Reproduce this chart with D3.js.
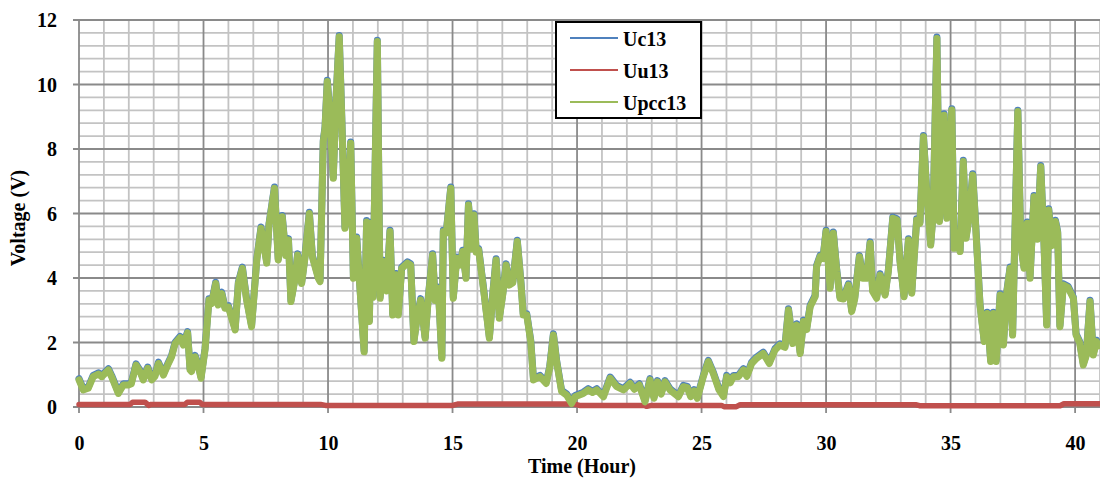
<!DOCTYPE html>
<html>
<head>
<meta charset="utf-8">
<script src="https://cdn.jsdelivr.net/npm/d3@7/dist/d3.min.js"></script>
<style>
  html, body { margin: 0; padding: 0; background: #ffffff; }
  svg { display: block; }
  text { font-family: "Liberation Serif", "Times New Roman", serif; font-weight: bold; fill: #000; }
</style>
</head>
<body>
<svg id="chart" width="1100" height="481"></svg>
<script>
// Measurement times (hours) shared by the Uc13 and Upcc13 traces
const hours = [
  0.00,0.17,0.37,0.57,0.78,0.91,1.18,1.31,1.58,1.78,
  1.98,2.10,2.29,2.45,2.58,2.76,2.92,3.05,3.19,3.39,
  3.59,3.72,3.86,4.06,4.19,4.36,4.46,4.52,4.66,4.78,
  4.90,5.06,5.22,5.33,5.49,5.59,5.73,5.86,6.00,6.27,
  6.40,6.56,6.73,6.93,7.14,7.31,7.54,7.63,7.85,8.00,
  8.16,8.30,8.41,8.51,8.67,8.78,8.94,9.07,9.25,9.37,
  9.61,9.68,9.81,9.88,9.97,10.05,10.21,10.32,10.45,10.55,
  10.68,10.80,10.91,11.02,11.15,11.45,11.55,11.66,11.73,11.80,
  11.98,12.09,12.22,12.35,12.49,12.60,12.73,12.82,12.96,13.19,
  13.32,13.45,13.55,13.72,13.90,14.03,14.20,14.30,14.43,14.57,
  14.63,14.75,14.93,15.03,15.17,15.30,15.41,15.54,15.64,15.77,
  15.86,15.95,16.05,16.24,16.48,16.63,16.75,16.88,17.02,17.15,
  17.28,17.42,17.60,17.75,17.84,17.98,18.14,18.25,18.51,18.76,
  18.90,19.05,19.18,19.38,19.58,19.78,19.92,20.25,20.45,20.62,
  20.79,21.06,21.33,21.59,21.86,22.13,22.30,22.50,22.73,22.93,
  23.09,23.23,23.38,23.53,23.73,24.07,24.27,24.43,24.56,24.70,
  24.83,25.07,25.27,25.47,25.70,25.88,26.01,26.15,26.28,26.48,
  26.68,26.82,27.01,27.21,27.48,27.72,27.95,28.15,28.35,28.49,
  28.66,28.82,28.96,29.09,29.22,29.36,29.56,29.62,29.76,29.88,
  30.00,30.16,30.29,30.43,30.56,30.70,30.90,31.03,31.15,31.34,
  31.47,31.62,31.77,31.87,32.03,32.17,32.37,32.50,32.68,32.85,
  32.97,33.13,33.31,33.44,33.64,33.77,33.91,34.04,34.20,34.30,
  34.45,34.55,34.74,34.85,35.05,35.14,35.25,35.38,35.51,35.62,
  35.75,35.89,36.02,36.18,36.35,36.47,36.61,36.72,36.83,36.99,
  37.12,37.25,37.39,37.49,37.70,37.82,37.95,38.08,38.19,38.35,
  38.48,38.62,38.75,38.86,38.94,39.07,39.21,39.30,39.39,39.53,
  39.72,39.93,40.04,40.18,40.33,40.45,40.60,40.73,40.86,40.95
];

// Uc13 voltage (V)
const uc13 = [
  0.88,0.57,0.62,0.98,1.06,0.98,1.19,0.98,0.46,0.72,
  0.72,0.76,1.34,1.14,0.88,1.24,0.88,0.99,1.39,1.03,
  1.39,1.60,2.01,2.19,1.96,2.34,1.19,1.14,1.60,1.34,
  0.93,1.81,3.36,3.25,3.87,3.20,3.56,3.10,3.14,2.43,
  3.87,4.34,3.36,2.53,4.60,5.58,4.50,5.68,6.82,4.60,
  5.94,4.74,5.22,3.31,3.98,4.75,3.87,4.64,6.04,4.70,
  4.03,3.93,8.27,8.68,10.13,9.34,7.13,9.54,11.52,9.04,
  5.58,6.24,8.22,4.03,5.27,1.75,5.78,2.69,5.74,3.44,
  11.37,3.41,4.55,3.64,5.48,2.89,4.14,2.89,4.34,4.50,
  4.44,2.07,2.64,3.36,2.17,3.44,4.75,3.34,3.72,1.55,
  5.48,5.44,6.82,3.41,4.65,4.44,4.86,4.03,6.30,4.94,
  5.99,4.84,4.91,3.72,2.17,3.64,4.60,2.79,3.54,4.44,
  3.82,3.89,5.17,3.84,2.89,2.89,2.07,0.88,0.98,0.77,
  1.24,2.27,1.44,0.52,0.41,0.15,0.36,0.46,0.57,0.49,
  0.57,0.36,0.93,0.67,0.57,0.77,0.59,0.72,0.20,0.88,
  0.31,0.82,0.44,0.82,0.57,0.36,0.67,0.64,0.36,0.54,
  0.31,0.98,1.45,1.08,0.57,0.36,0.98,0.79,0.98,0.98,
  1.19,0.99,1.39,1.55,1.70,1.39,1.81,1.96,1.89,3.05,
  2.01,2.58,1.70,2.69,2.44,3.15,3.46,4.39,4.70,4.64,
  5.48,3.72,5.43,4.24,3.41,3.39,3.82,3.00,3.39,4.70,
  4.03,4.03,5.12,3.62,3.41,4.13,3.51,4.24,5.89,5.84,
  4.55,3.46,5.22,3.57,5.84,5.74,8.42,6.72,5.06,6.04,
  11.47,5.79,9.09,5.89,9.25,4.96,5.44,4.86,7.65,5.27,
  5.94,7.23,5.48,3.20,2.07,2.94,1.45,2.94,1.45,3.51,
  1.96,3.54,4.34,2.27,9.20,5.06,4.34,5.74,4.03,6.56,
  5.24,7.49,5.14,2.58,6.15,5.04,5.79,5.44,2.53,3.82,
  3.74,3.41,2.27,2.04,1.34,1.64,3.31,1.65,2.07,1.94
];

// Upcc13 voltage (V)
const upcc13 = [
  0.84,0.53,0.58,0.94,1.02,0.94,1.15,0.94,0.42,0.68,
  0.68,0.72,1.30,1.10,0.84,1.20,0.84,0.95,1.35,0.99,
  1.35,1.56,1.97,2.15,1.92,2.30,1.15,1.10,1.56,1.30,
  0.89,1.77,3.32,3.21,3.83,3.16,3.52,3.06,3.10,2.39,
  3.83,4.30,3.32,2.49,4.56,5.54,4.46,5.64,6.78,4.56,
  5.90,4.70,5.18,3.27,3.94,4.71,3.83,4.60,6.00,4.66,
  3.99,3.89,8.23,8.64,10.09,9.30,7.09,9.50,11.48,9.00,
  5.54,6.20,8.18,3.99,5.23,1.71,5.74,2.65,5.70,3.40,
  11.33,3.37,4.51,3.60,5.44,2.85,4.10,2.85,4.30,4.46,
  4.40,2.03,2.60,3.32,2.13,3.40,4.71,3.30,3.68,1.51,
  5.44,5.40,6.78,3.37,4.61,4.40,4.82,3.99,6.26,4.90,
  5.95,4.80,4.87,3.68,2.13,3.60,4.56,2.75,3.50,4.40,
  3.78,3.85,5.13,3.80,2.85,2.85,2.03,0.84,0.94,0.73,
  1.20,2.23,1.40,0.48,0.37,0.11,0.32,0.42,0.53,0.45,
  0.53,0.32,0.89,0.63,0.53,0.73,0.55,0.68,0.16,0.84,
  0.27,0.78,0.40,0.78,0.53,0.32,0.63,0.60,0.32,0.50,
  0.27,0.94,1.41,1.04,0.53,0.32,0.94,0.75,0.94,0.94,
  1.15,0.95,1.35,1.51,1.66,1.35,1.77,1.92,1.85,3.01,
  1.97,2.54,1.66,2.65,2.40,3.11,3.42,4.35,4.66,4.60,
  5.44,3.68,5.39,4.20,3.37,3.35,3.78,2.96,3.35,4.66,
  3.99,3.99,5.08,3.58,3.37,4.09,3.47,4.20,5.85,5.80,
  4.51,3.42,5.18,3.53,5.80,5.70,8.38,6.68,5.02,6.00,
  11.43,5.75,9.05,5.85,9.21,4.92,5.40,4.82,7.61,5.23,
  5.90,7.19,5.44,3.16,2.03,2.90,1.41,2.90,1.41,3.47,
  1.92,3.50,4.30,2.23,9.16,5.02,4.30,5.70,3.99,6.52,
  5.20,7.45,5.10,2.54,6.11,5.00,5.75,5.40,2.49,3.78,
  3.70,3.37,2.23,2.00,1.30,1.60,3.27,1.61,2.03,1.90
];

// Uu13 voltage (V), sampled at its own break points
const uuHours = [0, 2.05, 2.15, 2.65, 2.8, 2.9, 4.25, 4.35, 4.85, 4.95, 9.7, 9.9, 15.0, 15.2,
                 19.9, 20.1, 22.7, 22.8, 23.0, 25.8, 25.9, 26.4, 26.55, 33.6, 33.75, 39.4, 39.55, 41];
const uu13 = [0.08, 0.08, 0.15, 0.15, 0.05, 0.08, 0.08, 0.15, 0.15, 0.08, 0.08, 0.05, 0.05, 0.09,
              0.09, 0.05, 0.05, 0.02, 0.05, 0.05, 0.01, 0.01, 0.07, 0.07, 0.04, 0.04, 0.10, 0.10];

// Axis tick labels
const xTickValues = [0, 5, 10, 15, 20, 25, 30, 35, 40];
const yTickValues = [0, 2, 4, 6, 8, 10, 12];

const seriesNames = ["Uc13", "Uu13", "Upcc13"];
const seriesColors = ["#4f81bd", "#c0504d", "#9bbb59"];

const svg = d3.select("#chart");
const plot = { left: 79, right: 1100, top: 20, bottom: 407 };

const x = d3.scaleLinear().domain([0, 41]).range([plot.left, plot.right]);
const y = d3.scaleLinear().domain([0, 12]).range([plot.bottom, plot.top]);

const minorGrid = "#c3c3c3";
const majorGrid = "#8a8a8a";

// Grid: minor every 0.4 V / 1 h, major every 2 V / 5 h
const grid = svg.append("g");
const yMinor = d3.range(0, 12.001, 0.4).map(v => +v.toFixed(1));
const xMinor = d3.range(0, 42, 1);

grid.selectAll(".hmin").data(yMinor.filter(v => Math.abs(v / 2 - Math.round(v / 2)) > 1e-6))
  .join("line")
  .attr("x1", plot.left).attr("x2", plot.right)
  .attr("y1", d => y(d)).attr("y2", d => y(d))
  .attr("stroke", minorGrid).attr("stroke-width", 1.8);

grid.selectAll(".vmin").data(xMinor.filter(h => h % 5 !== 0))
  .join("line")
  .attr("x1", d => x(d)).attr("x2", d => x(d))
  .attr("y1", plot.top).attr("y2", plot.bottom)
  .attr("stroke", minorGrid).attr("stroke-width", 1.8);

grid.selectAll(".hmaj").data(yTickValues)
  .join("line")
  .attr("x1", plot.left - 6).attr("x2", plot.right)
  .attr("y1", d => y(d)).attr("y2", d => y(d))
  .attr("stroke", majorGrid).attr("stroke-width", 1.8);

grid.selectAll(".vmaj").data(xTickValues)
  .join("line")
  .attr("x1", d => x(d)).attr("x2", d => x(d))
  .attr("y1", plot.top).attr("y2", plot.bottom + 6)
  .attr("stroke", majorGrid).attr("stroke-width", 1.8);

// Axes labels
const yAxis = d3.axisLeft(y).tickValues(yTickValues).tickSize(0).tickPadding(22);
const gy = svg.append("g").attr("transform", `translate(${plot.left},0)`).call(yAxis);
gy.select(".domain").remove();
gy.selectAll("text").attr("font-size", 20)
  .style("font-family", '"Liberation Serif", "Times New Roman", serif').style("font-weight", "bold")
  .attr("dy", "0.34em");

const xAxis = d3.axisBottom(x).tickValues(xTickValues).tickSize(0).tickPadding(29);
const gx = svg.append("g").attr("transform", `translate(0,${plot.bottom})`).call(xAxis);
gx.select(".domain").remove();
gx.selectAll("text").attr("font-size", 20)
  .style("font-family", '"Liberation Serif", "Times New Roman", serif').style("font-weight", "bold");

// Axis titles
svg.append("text")
  .attr("x", 582).attr("y", 473)
  .attr("text-anchor", "middle").attr("font-size", 20)
  .text("Time (Hour)");

svg.append("text")
  .attr("transform", "translate(25,218) rotate(-90)")
  .attr("text-anchor", "middle").attr("font-size", 20)
  .text("Voltage (V)");

// Series
const line = d3.line().x(d => x(d[0])).y(d => y(d[1]));
svg.append("clipPath").attr("id", "plotClip")
  .append("rect").attr("x", plot.left - 4).attr("y", plot.top - 12)
  .attr("width", plot.right - plot.left + 8).attr("height", plot.bottom - plot.top + 16);

const seriesData = [
  hours.map((h, i) => [h, uc13[i]]),
  uuHours.map((h, i) => [h, uu13[i]]),
  hours.map((h, i) => [h, upcc13[i]])
];
const seriesWidths = [7, 5.5, 7];

svg.append("g").attr("clip-path", "url(#plotClip)")
  .selectAll("path").data(seriesData).join("path")
  .attr("d", line)
  .attr("fill", "none")
  .attr("stroke", (d, i) => seriesColors[i])
  .attr("stroke-width", (d, i) => seriesWidths[i])
  .attr("stroke-linejoin", "round")
  .attr("stroke-linecap", "round");

// Legend
const legend = svg.append("g").attr("transform", "translate(556,22)");
legend.append("rect")
  .attr("width", 145).attr("height", 96)
  .attr("fill", "#ffffff").attr("stroke", "#000").attr("stroke-width", 2);
const items = legend.selectAll("g.item").data(seriesNames).join("g")
  .attr("transform", (d, i) => `translate(0,${16 + i * 32})`);
items.append("line")
  .attr("x1", 14).attr("x2", 62).attr("y1", 0).attr("y2", 0)
  .attr("stroke", (d, i) => seriesColors[i]).attr("stroke-width", 2);
items.append("text")
  .attr("x", 67).attr("y", 8).attr("font-size", 20)
  .text(d => d);
</script>
</body>
</html>
